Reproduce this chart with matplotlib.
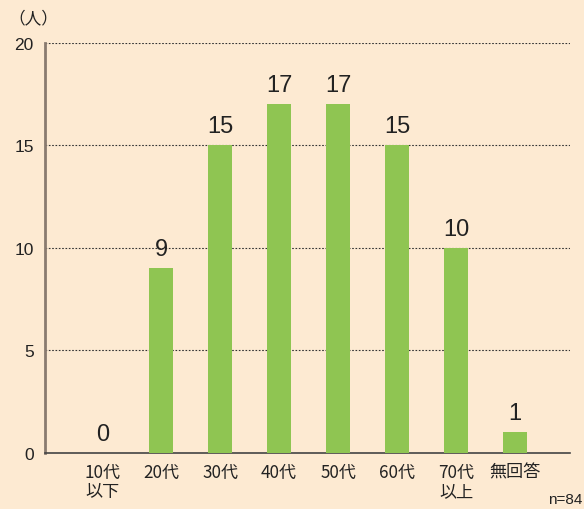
import matplotlib
matplotlib.use("Agg")
import matplotlib.pyplot as plt

plt.rcParams['font.family'] = ['Noto Sans CJK JP', 'DejaVu Sans']

categories = ["10代\n以下", "20代", "30代", "40代", "50代", "60代", "70代\n以上", "無回答"]
values = [0, 9, 15, 17, 17, 15, 10, 1]
yticks = [0, 5, 10, 15, 20]

bg = "#FDEAD2"
green = "#8FC552"

fig = plt.figure(figsize=(5.84, 5.10), dpi=100, facecolor=bg)
ax = fig.add_axes([0.077, 0.110, 0.899, 0.804], facecolor=bg)

x = list(range(len(categories)))
bars = ax.bar(x, values, width=0.41, color=green, zorder=3)

for xi, v in zip(x, values):
    ax.annotate(str(v), (xi, v), xytext=(0, 6), textcoords="offset points",
                ha="center", va="bottom", fontsize=17, color="#222222",
                family=['Liberation Sans', 'DejaVu Sans'])

ax.set_xlim(-0.97, 7.93)
ax.set_ylim(0, 20)
ax.set_yticks(yticks)
ax.set_yticklabels([str(t) for t in yticks], fontsize=12.5, color="#222222",
                   family=['Liberation Sans', 'DejaVu Sans'])
ax.set_xticks(x)
ax.set_xticklabels(categories, fontsize=12.3, color="#222222", linespacing=1.1)
ax.tick_params(axis='both', length=0)
ax.tick_params(axis='y', pad=8)
ax.tick_params(axis='x', pad=7)

for t in yticks[1:]:
    ax.axhline(t, color="#333333", linestyle=(0, (1.5, 1.5)), linewidth=0.8, zorder=1)

for s in ["top", "right"]:
    ax.spines[s].set_visible(False)
ax.spines["left"].set_color("#8A7B70")
ax.spines["left"].set_linewidth(2)
ax.spines["bottom"].set_color("#444444")
ax.spines["bottom"].set_linewidth(1.2)

fig.text(0.015, 0.963, "（人）", fontsize=12, color="#222222", ha="left", va="center")
fig.text(0.998, 0.006, "n=84", fontsize=11, color="#222222", ha="right", va="bottom",
         family=['Liberation Sans', 'DejaVu Sans'])

fig.savefig("out.png", dpi=100, facecolor=bg)
